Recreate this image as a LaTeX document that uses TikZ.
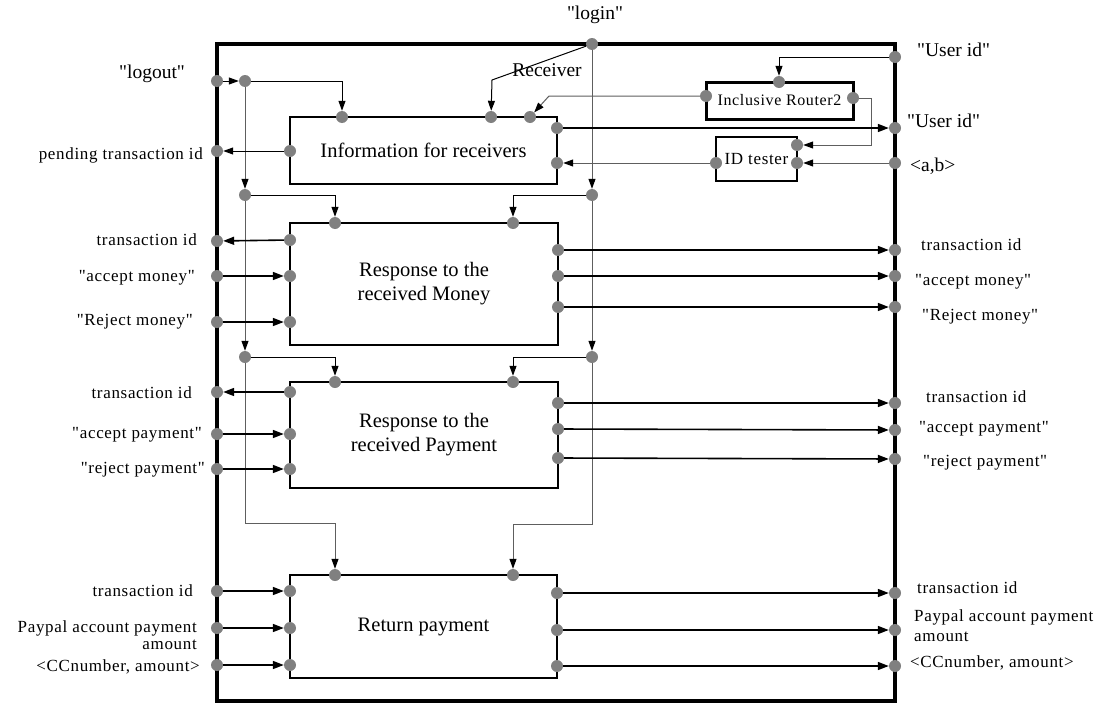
\documentclass[tikz,border=0pt]{standalone}
\usepackage{fontspec}
\setmainfont{Liberation Serif}[Ligatures=TeXOff]
\newfontfamily\spaced[LetterSpace=4]{Liberation Serif}
\usetikzlibrary{arrows.meta}
\definecolor{dotgray}{HTML}{808080}
\definecolor{linegray}{HTML}{5E5E5E}
\begin{document}
\begin{tikzpicture}[x=1pt,y=-1pt,
  port/.style={circle,fill=dotgray,inner sep=0pt,minimum size=12pt},
  box/.style={draw,line width=1.3pt,inner sep=0pt,align=center,font=\fontsize{20.5}{24}\selectfont},
  data/.style={line width=1.6pt,-{Triangle[length=11pt,width=8pt]}},
  thinarr/.style={line width=1pt,-{Triangle[length=10pt,width=7pt]}},
  ctrl/.style={draw=linegray,line width=1pt,-{Triangle[length=10pt,width=7pt,color=black]}},
  lbl/.style={font=\spaced\fontsize{17}{17}\selectfont,inner sep=0pt},
  big/.style={font=\fontsize{19.5}{20}\selectfont,inner sep=0pt}]
\useasboundingbox (0,0) rectangle (1106,704);
% frame
\draw[line width=3.5pt] (217,44) rectangle (895,701);
% boxes
\node[box,minimum width=267pt,minimum height=67pt] (info) at (423.5,150.5) {Information for receivers};
\node[box,minimum width=268pt,minimum height=122pt] (money) at (424,284) {Response to the\\received Money};
\node[box,minimum width=268pt,minimum height=106pt] (pay) at (424,435) {Response to the\\received Payment};
\node[box,minimum width=267pt,minimum height=103pt] (ret) at (423.5,626.5) {Return payment};
\node[box,line width=3pt,minimum width=147pt,minimum height=37pt,font=\spaced\fontsize{16}{16}\selectfont] (router) at (779.5,100.5) {Inclusive Router2};
\node[box,minimum width=81pt,minimum height=44pt,font=\spaced\fontsize{17}{17}\selectfont] (idt) at (756.5,159) {ID tester};
% wall ports
\node[port] (login) at (592,44) {};
\node[port] (wLogout) at (217,81) {};
\node[port] (wPend) at (217,151) {};
\node[port] (wUid1) at (895,57) {};
\node[port] (wUid2) at (895,128) {};
\node[port] (wAB) at (895,163) {};
\node[port] (wML1) at (217,241) {};
\node[port] (wML2) at (217,276) {};
\node[port] (wML3) at (217,322) {};
\node[port] (wMR1) at (895,250) {};
\node[port] (wMR2) at (895,276) {};
\node[port] (wMR3) at (895,307) {};
\node[port] (wPL1) at (217,392) {};
\node[port] (wPL2) at (217,434) {};
\node[port] (wPL3) at (217,469) {};
\node[port] (wPR1) at (895,403) {};
\node[port] (wPR2) at (895,430) {};
\node[port] (wPR3) at (895,459) {};
\node[port] (wRL1) at (217,591) {};
\node[port] (wRL2) at (217,628) {};
\node[port] (wRL3) at (217,665) {};
\node[port] (wRR1) at (895,593) {};
\node[port] (wRR2) at (895,630) {};
\node[port] (wRR3) at (895,666) {};
% junctions
\node[port] (jL1) at (245,81) {};
\node[port] (jL2) at (245,195) {};
\node[port] (jL3) at (245,357) {};
\node[port] (jR1) at (592,195) {};
\node[port] (jR2) at (592,357) {};
% info ports
\node[port] (iT1) at (342,117) {};
\node[port] (iT2) at (491,117) {};
\node[port] (iT3) at (530,117) {};
\node[port] (iL) at (290,151) {};
\node[port] (iR1) at (557,128) {};
\node[port] (iR2) at (557,163) {};
% router and tester ports
\node[port] (rL) at (706,96) {};
\node[port] (rT) at (779,82) {};
\node[port] (rR) at (853,98) {};
\node[port] (tL) at (716,163) {};
\node[port] (tR1) at (797,145) {};
\node[port] (tR2) at (797,163) {};
% money ports
\node[port] (mT1) at (335,223) {};
\node[port] (mT2) at (513,223) {};
\node[port] (mL1) at (290,240) {};
\node[port] (mL2) at (290,276) {};
\node[port] (mL3) at (290,322) {};
\node[port] (mR1) at (558,250) {};
\node[port] (mR2) at (558,276) {};
\node[port] (mR3) at (558,307) {};
% payment ports
\node[port] (pT1) at (335,382) {};
\node[port] (pT2) at (513,382) {};
\node[port] (pL1) at (290,392) {};
\node[port] (pL2) at (290,434) {};
\node[port] (pL3) at (290,469) {};
\node[port] (pR1) at (558,403) {};
\node[port] (pR2) at (558,429) {};
\node[port] (pR3) at (558,458) {};
% return ports
\node[port] (eT1) at (335,575) {};
\node[port] (eT2) at (513,575) {};
\node[port] (eL1) at (290,591) {};
\node[port] (eL2) at (290,628) {};
\node[port] (eL3) at (290,665) {};
\node[port] (eR1) at (557,593) {};
\node[port] (eR2) at (557,630) {};
\node[port] (eR3) at (557,666) {};
% helper coordinates
\coordinate (cL) at (245,523);
\coordinate (cR) at (592,524);
\coordinate (cRec) at (492,80);
\coordinate (cRL) at (549,96);
\coordinate (cRR) at (871,98);
% control flow
\draw[thinarr] (wLogout) -- (jL1);
\draw[thinarr] (jL1) -| (iT1);
\draw[ctrl] (jL1) -- (jL2);
\draw[ctrl] (jL2) -- (jL3);
\draw[thinarr] (jL2) -| (mT1);
\draw[thinarr] (jL3) -| (pT1);
\draw[ctrl] (jL3) -- (cL) -| (eT1);
\draw[ctrl] (login) -- (jR1);
\draw[ctrl] (jR1) -- (jR2);
\draw[thinarr] (jR1) -| (mT2);
\draw[thinarr] (jR2) -| (pT2);
\draw[ctrl] (jR2) -- (cR) -| (eT2);
\draw[thinarr] (login) -- (cRec) -- (iT2);
\draw[thinarr] (wUid1) -| (rT);
\draw[ctrl] (rL) -- (cRL) -- (iT3);
\draw[ctrl] (rR) -- (cRR) |- (tR1);
\draw[ctrl] (wAB) -- (tR2);
\draw[ctrl] (tL) -- (iR2);
\draw[data] (iR1) -- (wUid2);
\draw[thinarr] (iL) -- (wPend);
% money data
\draw[data] (mL1) -- (wML1);
\draw[data] (wML2) -- (mL2);
\draw[data] (wML3) -- (mL3);
\draw[data] (mR1) -- (wMR1);
\draw[data] (mR2) -- (wMR2);
\draw[data] (mR3) -- (wMR3);
% payment data
\draw[data] (pL1) -- (wPL1);
\draw[data] (wPL2) -- (pL2);
\draw[data] (wPL3) -- (pL3);
\draw[data] (pR1) -- (wPR1);
\draw[data] (pR2) -- (wPR2);
\draw[data] (pR3) -- (wPR3);
% return data
\draw[data] (wRL1) -- (eL1);
\draw[data] (wRL2) -- (eL2);
\draw[data] (wRL3) -- (eL3);
\draw[data] (eR1) -- (wRR1);
\draw[data] (eR2) -- (wRR2);
\draw[data] (eR3) -- (wRR3);
% labels
\node[big] (tLogin) at (595,15) {"login"};
\node[big] (tLogout) at (152,74) {"logout"};
\node[big,anchor=west] (tUid1) at (917,50) {"User id"};
\node[big,anchor=west] (tUid2) at (907,121) {"User id"};
\node[big,anchor=west] (tAB) at (910,166) {<a,b>};
\node[big] (tRecv) at (547,70) {Receiver};
\node[lbl,anchor=east] (tPend) at (203,155) {pending transaction id};
\node[lbl,anchor=east] (tML1) at (197,240) {transaction id};
\node[lbl,anchor=east] (tML2) at (195,278) {"accept money"};
\node[lbl,anchor=east] (tML3) at (193,322) {"Reject money"};
\node[lbl,anchor=west] (tMR1) at (921,245) {transaction id};
\node[lbl,anchor=west] (tMR2) at (915,282) {"accept money"};
\node[lbl,anchor=west] (tMR3) at (922,317) {"Reject money"};
\node[lbl,anchor=east] (tPL1) at (192,393) {transaction id};
\node[lbl,anchor=east] (tPL2) at (202,435) {"accept payment"};
\node[lbl,anchor=east] (tPL3) at (205,470) {"reject payment"};
\node[lbl,anchor=west] (tPR1) at (926,397) {transaction id};
\node[lbl,anchor=west] (tPR2) at (919,429) {"accept payment"};
\node[lbl,anchor=west] (tPR3) at (923,463) {"reject payment"};
\node[lbl,anchor=east] (tRL1) at (193,591) {transaction id};
\node[lbl,anchor=east,align=right,font=\spaced\fontsize{17}{17}\selectfont] (tRL2) at (197,635) {Paypal account payment\\amount};
\node[lbl,anchor=east] (tRL3) at (200,667) {<CCnumber, amount>};
\node[lbl,anchor=west] (tRR1) at (917,588) {transaction id};
\node[lbl,anchor=west,align=left,font=\spaced\fontsize{17}{20}\selectfont] (tRR2) at (914,626) {Paypal account payment\\amount};
\node[lbl,anchor=west] (tRR3) at (910,663) {<CCnumber, amount>};
\end{tikzpicture}
\end{document}
